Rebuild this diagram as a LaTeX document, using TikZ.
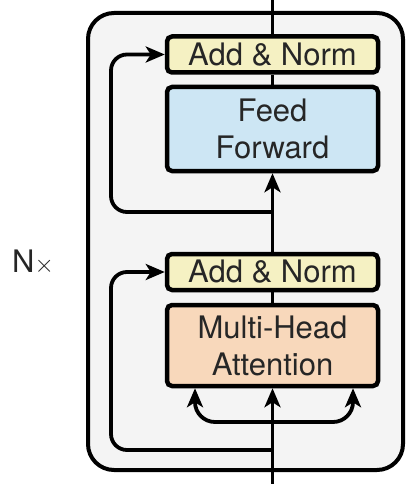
\documentclass[tikz,border=0pt]{standalone}
\usepackage{fontspec}
\setmainfont{TeX Gyre Heros}
\usetikzlibrary{arrows.meta}
\definecolor{anfill}{HTML}{F5F1C3}
\definecolor{fffill}{HTML}{CDE6F4}
\definecolor{mhafill}{HTML}{F8D8BB}
\definecolor{outerfill}{HTML}{F4F4F4}
\begin{document}
\begin{tikzpicture}[x=1pt,y=-1pt,
 blk/.style={draw=black, line width=4.5pt, rounded corners=5pt, minimum width=211pt, inner sep=0pt, font=\fontsize{31}{37}\selectfont, align=center, text=black!85},
 conn/.style={line width=3.8pt},
 arr/.style={conn, -{Stealth[length=19pt,width=16pt,inset=5pt]}}]
\useasboundingbox (0,0) rectangle (414,484);
\draw[line width=4pt, fill=outerfill, rounded corners=26pt] (88,13) rectangle (403,470);
\node[blk, fill=anfill, minimum height=36pt] (an1) at (272.5,54.5) {Add \& Norm};
\node[blk, fill=fffill, minimum height=84pt] (ff) at (272.5,129) {Feed\\Forward};
\node[blk, fill=anfill, minimum height=36pt] (an2) at (272.5,272) {Add \& Norm};
\node[blk, fill=mhafill, minimum height=81pt] (mha) at (272.5,345.5) {Multi-Head\\Attention};
\node[font=\fontsize{31}{36}\selectfont, text=black!85] (nx) at (33,262) {N$\times$};
\coordinate (top) at (272.5,0);
\coordinate (bot) at (272.5,484);
\coordinate (r2) at (272.5,450);
\coordinate (fork) at (272.5,422);
\coordinate (r1) at (272.5,212);
% main line
\draw[arr] (bot) -- (mha.south);
\draw[conn] (mha.north) -- (an2.south);
\draw[arr] (an2.north) -- (ff.south);
\draw[conn] (ff.north) -- (an1.south);
\draw[conn] (an1.north) -- (top);
% residuals
\draw[arr, rounded corners=16pt] (r2) -- (111,450) -- (111,272) -- (an2.west);
\draw[arr, rounded corners=16pt] (r1) -- (111,212) -- (111,54.5) -- (an1.west);
% fork
\draw[arr, rounded corners=20pt] (fork) -| ([xshift=-77.5pt]mha.south);
\draw[arr, rounded corners=20pt] (fork) -| ([xshift=80.5pt]mha.south);
\end{tikzpicture}
\end{document}
